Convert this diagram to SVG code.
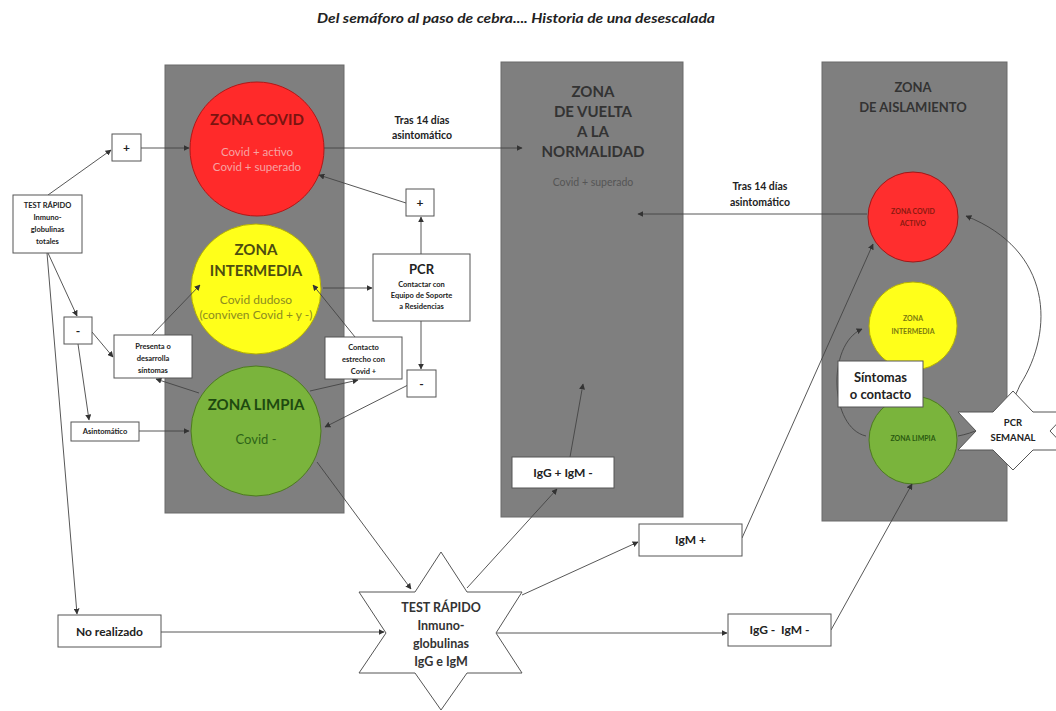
<svg xmlns="http://www.w3.org/2000/svg" width="1056" height="711" viewBox="0 0 1056 711">
<defs>
<marker id="ah" viewBox="0 0 10 10" refX="9" refY="5" markerWidth="6" markerHeight="6" orient="auto" markerUnits="userSpaceOnUse">
<path d="M0,0 L10,5 L0,10 z" fill="#333"/>
</marker>
<style>
text{font-family:Lato,"Open Sans","Liberation Sans",sans-serif;text-anchor:middle}
.panel{fill:#7f7f7f;stroke:#6a6a6a;stroke-width:1}
.box{fill:#fff;stroke:#555;stroke-width:1}
.conn{fill:none;stroke:#444;stroke-width:0.9;marker-end:url(#ah)}
.b{font-weight:bold}
.lbl{font-size:7.5px;font-weight:bold;fill:#222}
.big{font-size:12px;font-weight:bold;fill:#222}
.zt{font-size:15px;font-weight:bold}
.pt{font-size:15px;font-weight:bold;fill:#333}
.st{font-size:7px;font-weight:bold}
.tras{font-size:10.5px;font-weight:bold;fill:#222}
</style>
</defs>
<rect width="1056" height="711" fill="#fff"/>
<text x="516" y="23" font-size="12.5" font-style="italic" font-weight="bold" fill="#222" textLength="398" lengthAdjust="spacingAndGlyphs">Del semáforo al paso de cebra.... Historia de una desescalada</text>

<g id="panel-left"><rect class="panel" x="165" y="65" width="179" height="448"/></g>
<g id="panel-normalidad">
<rect class="panel" x="501" y="62" width="182" height="455"/>
<text class="pt" x="593" y="97">ZONA</text>
<text class="pt" x="593" y="117">DE VUELTA</text>
<text class="pt" x="593" y="137">A LA</text>
<text class="pt" x="593" y="157">NORMALIDAD</text>
<text x="593" y="186" font-size="10.5" fill="#555">Covid + superado</text>
</g>
<g id="panel-aislamiento">
<rect class="panel" x="822" y="62" width="185" height="459"/>
<text x="913" y="92" font-size="13" font-weight="bold" fill="#333">ZONA</text>
<text x="913" y="112" font-size="13" font-weight="bold" fill="#333">DE AISLAMIENTO</text>
</g>

<g id="zona-covid">
<circle cx="257" cy="149" r="67" fill="#ff2a2a" stroke="#b01818" stroke-width="1"/>
<text class="zt" x="257" y="125" fill="#7a1410">ZONA COVID</text>
<text x="257" y="156" font-size="11.5" fill="#f7a3a3">Covid + activo</text>
<text x="257" y="171" font-size="11.5" fill="#f7a3a3">Covid + superado</text>
</g>
<g id="zona-intermedia">
<circle cx="256" cy="289" r="65" fill="#ffff1a" stroke="#b5b000" stroke-width="1"/>
<text class="zt" x="256" y="255" fill="#4d4d10">ZONA</text>
<text class="zt" x="256" y="276" fill="#4d4d10">INTERMEDIA</text>
<text x="256" y="304" font-size="12" fill="#8c8c20">Covid dudoso</text>
<text x="256" y="319" font-size="12" fill="#8c8c20">(conviven Covid + y -)</text>
</g>
<g id="zona-limpia">
<circle cx="256" cy="431" r="65" fill="#7ab43c" stroke="#4d7a20" stroke-width="1"/>
<text class="zt" x="256" y="410" fill="#1e4a10">ZONA LIMPIA</text>
<text x="256" y="444" font-size="13" fill="#2e6418">Covid -</text>
</g>

<g id="ais-covid">
<circle cx="913" cy="217" r="45" fill="#ff2e2e" stroke="#a01818" stroke-width="1"/>
<text class="st" x="913" y="214" fill="#8a1a10">ZONA COVID</text>
<text class="st" x="913" y="226" fill="#8a1a10">ACTIVO</text>
</g>
<g id="ais-intermedia">
<circle cx="913" cy="326" r="44" fill="#ffff1a" stroke="#b5b000" stroke-width="1"/>
<text class="st" x="913" y="321" fill="#7a7a10">ZONA</text>
<text class="st" x="913" y="334" fill="#7a7a10">INTERMEDIA</text>
</g>
<g id="ais-limpia">
<circle cx="913" cy="440" r="44" fill="#7ab43c" stroke="#4d7a20" stroke-width="1"/>
<text class="st" x="913" y="441" fill="#2a5a10">ZONA LIMPIA</text>
</g>

<g id="connectors">
<path class="conn" d="M48 195 L111 150"/>
<path class="conn" d="M141 148 L189 148"/>
<path class="conn" d="M48 253 L77 316"/>
<path class="conn" d="M47 253 L77 614"/>
<path class="conn" d="M92 332 L113 357"/>
<path class="conn" d="M78 344 L89 420"/>
<path class="conn" d="M139 431 L189 431"/>
<path class="conn" d="M152 335 L200 285"/>
<path class="conn" d="M199 393 L156 379"/>
<path class="conn" d="M310 391 L358 380"/>
<path class="conn" d="M355 337 L313 285"/>
<path class="conn" d="M323 288 L372 288"/>
<path class="conn" d="M421 254 L421 217"/>
<path class="conn" d="M406 203 L319 175"/>
<path class="conn" d="M421 321 L421 369"/>
<path class="conn" d="M408 385 L325 427"/>
<path class="conn" d="M324 148 L522 148"/>
<path class="conn" d="M867 214 L638 214"/>
<path class="conn" d="M317 462 L411 589"/>
<path class="conn" d="M161 632 L384 632"/>
<path class="conn" d="M467 588 L557 489"/>
<path class="conn" d="M570 457 L583 384"/>
<path class="conn" d="M522 595 L638 542"/>
<path class="conn" d="M742 538 L873 244"/>
<path class="conn" d="M497 633 L727 633"/>
<path class="conn" d="M831 630 L912 484"/>
<path class="conn" d="M866 436 C830 428 826 345 862 329"/>
<path class="conn" d="M958 436 C990 430 1010 410 1020 385 C1055 330 1052 250 966 216"/>
</g>

<g id="lbl-tras-1">
<text class="tras" x="422" y="124">Tras 14 días</text>
<text class="tras" x="422" y="139">asintomático</text>
</g>
<g id="lbl-tras-2">
<text class="tras" x="760" y="190">Tras 14 días</text>
<text class="tras" x="760" y="206">asintomático</text>
</g>

<g id="test-totales">
<rect class="box" x="13" y="195" width="69" height="58"/>
<text class="lbl" x="47.5" y="208">TEST RÁPIDO</text>
<text class="lbl" x="47.5" y="220">Inmuno-</text>
<text class="lbl" x="47.5" y="232">globulinas</text>
<text class="lbl" x="47.5" y="244">totales</text>
</g>
<g id="plus-left"><rect class="box" x="112" y="134" width="29" height="27"/><text class="big" x="126.5" y="152">+</text></g>
<g id="minus-left"><rect class="box" x="64" y="317" width="28" height="27"/><text class="big" x="78" y="335">-</text></g>
<g id="presenta">
<rect class="box" x="114" y="335" width="78" height="43"/>
<text class="lbl" x="153" y="349">Presenta o</text>
<text class="lbl" x="153" y="361">desarrolla</text>
<text class="lbl" x="153" y="373">síntomas</text>
</g>
<g id="asintomatico"><rect class="box" x="71" y="422" width="68" height="19"/><text class="lbl" x="105" y="434">Asintomático</text></g>
<g id="contacto">
<rect class="box" x="325" y="337" width="77" height="42"/>
<text class="lbl" x="363.5" y="350">Contacto</text>
<text class="lbl" x="363.5" y="362">estrecho con</text>
<text class="lbl" x="363.5" y="374">Covid +</text>
</g>
<g id="pcr">
<rect class="box" x="373" y="254" width="97" height="67"/>
<text x="421.5" y="274" font-size="13" font-weight="bold" fill="#222">PCR</text>
<text class="lbl" x="421.5" y="287">Contactar con</text>
<text class="lbl" x="421.5" y="298">Equipo de Soporte</text>
<text class="lbl" x="421.5" y="309">a Residencias</text>
</g>
<g id="plus-right"><rect class="box" x="406" y="189" width="28" height="27"/><text class="big" x="420" y="207">+</text></g>
<g id="minus-right"><rect class="box" x="407" y="370" width="29" height="27"/><text class="big" x="421.5" y="388">-</text></g>
<g id="no-realizado"><rect class="box" x="58" y="615" width="103" height="32"/><text class="big" x="109.5" y="636">No realizado</text></g>
<g id="igg-pos"><rect class="box" x="512" y="457" width="102" height="31"/><text class="big" x="563" y="477">IgG + IgM -</text></g>
<g id="igm-pos"><rect class="box" x="639" y="524" width="103" height="32"/><text class="big" x="690.5" y="544">IgM +</text></g>
<g id="igg-neg"><rect class="box" x="728" y="614" width="103" height="32"/><text class="big" x="779.5" y="634" xml:space="preserve">IgG -  IgM -</text></g>
<g id="sintomas">
<rect class="box" x="838" y="361" width="85" height="46"/>
<text x="880.5" y="382" font-size="13" font-weight="bold" fill="#222">Síntomas</text>
<text x="880.5" y="399" font-size="13" font-weight="bold" fill="#222">o contacto</text>
</g>
<g id="pcr-semanal">
<polygon class="box" points="1013,391 1033,412 1068,412 1050,431 1068,450 1033,450 1013,470 993,450 958,450 976,431 958,412 993,412"/>
<text x="1013" y="426" font-size="9.5" font-weight="bold" fill="#222">PCR</text>
<text x="1013" y="441" font-size="9.5" font-weight="bold" fill="#222">SEMANAL</text>
</g>
<g id="test-igg-igm">
<polygon class="box" points="441,552 467,592 522,592 496,633 522,673 467,673 441,710 415,673 359,673 386,633 359,592 415,592"/>
<text x="441" y="612" font-size="12.5" font-weight="bold" fill="#333">TEST RÁPIDO</text>
<text x="441" y="630" font-size="12.5" font-weight="bold" fill="#333">Inmuno-</text>
<text x="441" y="648" font-size="12.5" font-weight="bold" fill="#333">globulinas</text>
<text x="441" y="666" font-size="12.5" font-weight="bold" fill="#333">IgG e IgM</text>
</g>
</svg>
